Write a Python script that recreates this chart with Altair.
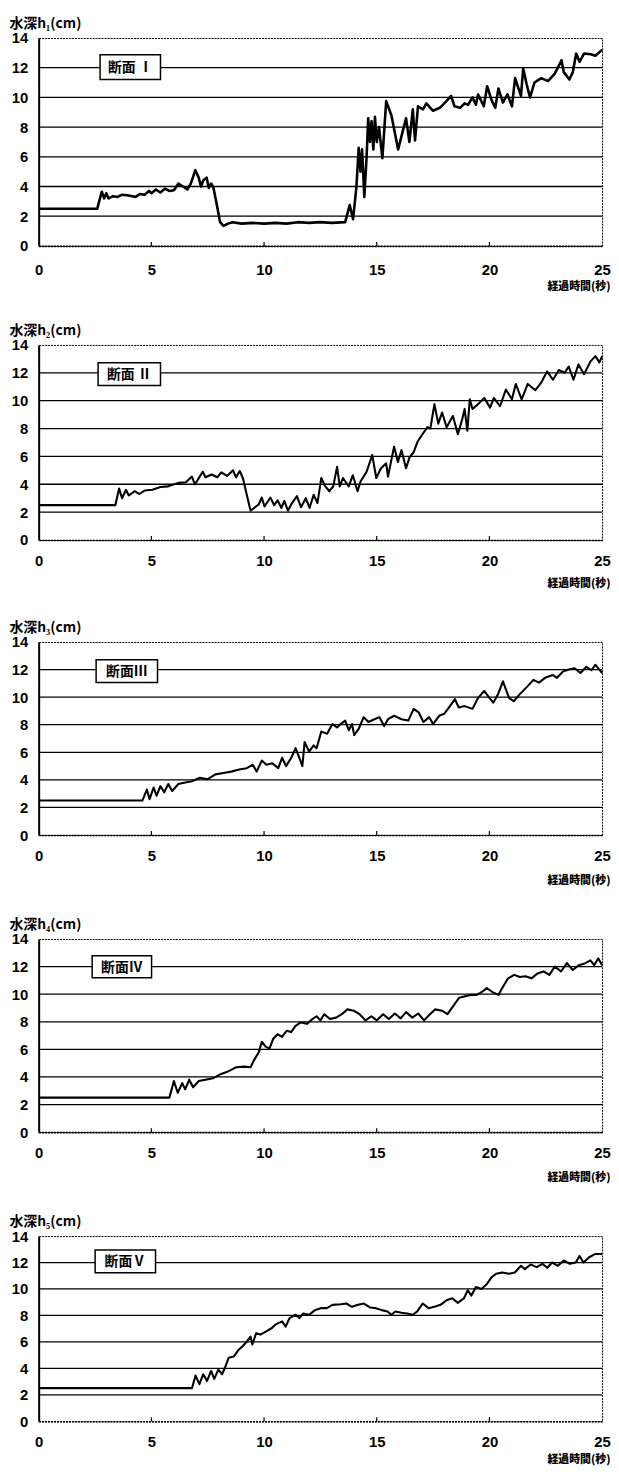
import altair as alt
import pandas as pd

# ---------------- data ----------------
t1 = [0, 2.6, 2.7, 2.8, 2.9, 3.0, 3.1, 3.3, 3.5, 3.7, 4.0, 4.3, 4.5, 4.7, 4.9, 5.0, 5.2, 5.4, 5.6, 5.8,
      6.0, 6.2, 6.4, 6.6, 6.75, 6.95, 7.1, 7.2, 7.3, 7.45, 7.55, 7.65, 7.75, 7.9, 8.05, 8.2, 8.4, 8.6,
      9.0, 9.5, 10.0, 10.5, 11.0, 11.5, 12.0, 12.5, 13.0, 13.6, 13.8, 13.95, 14.1, 14.2, 14.28, 14.35,
      14.45, 14.55, 14.62, 14.7, 14.77, 14.85, 14.92, 15.0, 15.1, 15.25, 15.42, 15.65, 15.95, 16.3,
      16.45, 16.6, 16.7, 16.83, 17.05, 17.2, 17.5, 17.8, 18.0, 18.3, 18.45, 18.7, 18.9, 19.05, 19.25,
      19.4, 19.5, 19.75, 19.9, 20.1, 20.26, 20.4, 20.6, 20.8, 21.0, 21.14, 21.4, 21.5, 21.65, 21.8,
      22.0, 22.3, 22.6, 22.9, 23.2, 23.3, 23.55, 23.7, 23.85, 24.0, 24.2, 24.5, 24.7, 25.0]
h1 = [2.5, 2.5, 3.1, 3.65, 3.2, 3.55, 3.2, 3.35, 3.3, 3.45, 3.4, 3.3, 3.5, 3.45, 3.7, 3.55, 3.8, 3.6, 3.85, 3.7,
      3.75, 4.2, 4.0, 3.8, 4.2, 5.1, 4.6, 4.0, 4.4, 4.6, 3.9, 4.2, 3.95, 2.8, 1.6, 1.35, 1.5, 1.6,
      1.5, 1.55, 1.5, 1.55, 1.5, 1.6, 1.55, 1.6, 1.55, 1.6, 2.75, 1.8, 4.0, 6.6, 5.0, 6.5,
      3.3, 6.0, 8.6, 7.0, 8.4, 6.5, 8.7, 7.0, 8.0, 5.9, 9.75, 8.8, 6.5, 8.6,
      7.0, 9.2, 7.1, 9.4, 9.2, 9.6, 9.1, 9.3, 9.6, 10.1, 9.4, 9.3, 9.6, 9.5, 10.0,
      9.5, 10.2, 9.4, 10.75, 9.8, 9.3, 10.6, 9.65, 10.2, 9.4, 11.3, 10.1, 11.95, 10.9, 10.0,
      11.0, 11.3, 11.1, 11.6, 12.5, 11.7, 11.2, 11.7, 12.95, 12.4, 12.95, 12.9, 12.8, 13.2]

t2 = [0, 3.4, 3.57, 3.7, 3.87, 4.0, 4.27, 4.45, 4.7, 5.05, 5.4, 5.75, 6.2, 6.53, 6.8, 6.93, 7.05, 7.28,
      7.4, 7.67, 7.93, 8.1, 8.36, 8.62, 8.76, 8.92, 9.06, 9.4, 9.76, 9.9, 10.02, 10.28, 10.45, 10.6,
      10.77, 10.9, 11.06, 11.24, 11.46, 11.64, 11.85, 12.02, 12.2, 12.37, 12.54, 12.72, 12.9, 13.07,
      13.24, 13.36, 13.5, 13.76, 13.94, 14.15, 14.28, 14.55, 14.8, 14.98, 15.19, 15.42, 15.5, 15.77,
      15.94, 16.1, 16.3, 16.46, 16.64, 16.81, 16.99, 17.25, 17.38, 17.56, 17.73, 17.9, 18.1, 18.38,
      18.6, 18.8, 18.9, 19.02, 19.13, 19.25, 19.5, 19.77, 20.03, 20.2, 20.47, 20.73, 21.0, 21.17,
      21.43, 21.7, 22.04, 22.3, 22.56, 22.82, 23.08, 23.34, 23.52, 23.73, 23.95, 24.2, 24.48, 24.7,
      24.88, 25.0]
h2 = [2.5, 2.5, 3.7, 3.0, 3.6, 3.2, 3.5, 3.3, 3.55, 3.6, 3.8, 3.85, 4.1, 4.15, 4.55, 4.0, 4.3, 4.9,
      4.5, 4.7, 4.5, 4.85, 4.6, 5.0, 4.5, 4.95, 4.45, 2.1, 2.55, 3.05, 2.4, 3.05, 2.5, 2.85,
      2.3, 2.8, 2.1, 2.65, 3.15, 2.35, 3.0, 2.3, 3.25, 2.65, 4.45, 3.85, 3.5, 3.85,
      5.25, 3.85, 4.45, 3.85, 4.65, 3.5, 4.2, 4.9, 6.1, 4.45, 5.15, 5.5, 4.55, 6.7,
      5.6, 6.45, 5.15, 5.95, 6.3, 7.05, 7.5, 8.1, 8.0, 9.75, 8.35, 9.15, 8.1, 8.9,
      7.6, 8.7, 9.4, 7.85, 10.1, 9.4, 9.75, 10.2, 9.5, 10.2, 9.6, 10.8, 10.1, 11.2,
      10.1, 11.2, 10.75, 11.3, 12.1, 11.5, 12.2, 12.0, 12.45, 11.5, 12.6, 11.9, 12.8, 13.2,
      12.75, 13.2]

t3 = [0, 4.6, 4.8, 4.92, 5.1, 5.23, 5.4, 5.57, 5.75, 5.92, 6.2, 6.45, 6.8, 7.15, 7.5, 7.84, 8.2, 8.54,
      8.9, 9.23, 9.5, 9.67, 9.9, 10.1, 10.37, 10.63, 10.8, 10.98, 11.24, 11.4, 11.6, 11.7, 11.8, 12.0,
      12.2, 12.33, 12.54, 12.8, 13.03, 13.24, 13.4, 13.6, 13.76, 13.9, 14.0, 14.2, 14.42, 14.63, 14.9,
      15.12, 15.33, 15.5, 15.77, 16.1, 16.4, 16.64, 16.86, 17.07, 17.33, 17.5, 17.77, 18.0, 18.25,
      18.47, 18.64, 18.9, 19.25, 19.5, 19.77, 20.0, 20.17, 20.38, 20.6, 20.87, 21.08, 21.34, 21.7,
      21.95, 22.2, 22.47, 22.82, 23.0, 23.26, 23.52, 23.78, 24.04, 24.3, 24.53, 24.7, 24.88, 25.0]
h3 = [2.5, 2.5, 3.3, 2.6, 3.45, 2.85, 3.55, 3.1, 3.7, 3.2, 3.7, 3.8, 3.9, 4.15, 4.05, 4.4, 4.5, 4.6,
      4.75, 4.85, 5.1, 4.6, 5.4, 5.1, 5.2, 4.85, 5.6, 5.0, 5.7, 6.3, 5.45, 5.0, 6.75, 6.05,
      6.5, 6.3, 7.5, 7.35, 8.05, 7.8, 8.05, 8.3, 7.6, 8.05, 7.25, 7.7, 8.55, 8.2, 8.4,
      8.55, 7.9, 8.4, 8.65, 8.4, 8.3, 9.15, 8.9, 8.2, 8.55, 8.05, 8.65, 8.8, 9.35,
      9.85, 9.25, 9.35, 9.15, 9.95, 10.45, 9.95, 9.6, 10.2, 11.15, 9.95, 9.7, 10.2, 10.8,
      11.25, 11.05, 11.4, 11.6, 11.4, 11.85, 12.0, 12.1, 11.75, 12.2, 11.95, 12.35, 12.0, 11.75]

t4 = [0, 5.8, 6.0, 6.17, 6.37, 6.5, 6.68, 6.85, 7.1, 7.4, 7.73, 8.07, 8.4, 8.77, 9.1, 9.4, 9.55, 9.77,
      9.9, 10.07, 10.24, 10.4, 10.6, 10.8, 11.0, 11.2, 11.4, 11.63, 11.9, 12.15, 12.33, 12.5, 12.67,
      12.93, 13.2, 13.45, 13.7, 13.98, 14.24, 14.5, 14.76, 15.0, 15.28, 15.54, 15.8, 16.06, 16.3,
      16.58, 16.84, 17.1, 17.36, 17.6, 17.9, 18.14, 18.4, 18.66, 18.92, 19.18, 19.44, 19.7, 19.88,
      20.14, 20.4, 20.57, 20.83, 21.1, 21.35, 21.6, 21.87, 22.13, 22.4, 22.66, 22.9, 23.18, 23.44,
      23.7, 23.96, 24.2, 24.48, 24.65, 24.83, 25.0]
h4 = [2.5, 2.5, 3.7, 2.85, 3.55, 3.1, 3.8, 3.25, 3.7, 3.8, 3.9, 4.2, 4.4, 4.7, 4.75, 4.7, 5.2, 5.8,
      6.55, 6.2, 6.05, 6.75, 7.1, 6.9, 7.35, 7.25, 7.7, 7.95, 7.85, 8.2, 8.4, 8.1, 8.55,
      8.2, 8.3, 8.55, 8.9, 8.8, 8.55, 8.1, 8.4, 8.1, 8.55, 8.2, 8.6, 8.25, 8.7,
      8.3, 8.6, 8.1, 8.55, 8.9, 8.8, 8.55, 9.15, 9.75, 9.85, 9.95, 9.95, 10.2, 10.45,
      10.15, 9.95, 10.45, 11.15, 11.4, 11.25, 11.3, 11.15, 11.5, 11.65, 11.4, 12.0, 11.65, 12.25,
      11.75, 12.1, 12.2, 12.45, 12.1, 12.6, 12.1]

t5 = [0, 6.8, 6.96, 7.13, 7.3, 7.47, 7.65, 7.79, 7.97, 8.14, 8.3, 8.43, 8.66, 8.87, 9.04, 9.25, 9.4,
      9.48, 9.65, 9.83, 10.1, 10.35, 10.5, 10.8, 10.96, 11.13, 11.4, 11.57, 11.74, 12.0, 12.26, 12.52,
      12.78, 13.04, 13.4, 13.65, 13.9, 14.17, 14.43, 14.7, 14.96, 15.22, 15.48, 15.65, 15.83, 16.1,
      16.35, 16.6, 16.8, 17.04, 17.3, 17.56, 17.83, 18.1, 18.35, 18.6, 18.87, 19.04, 19.2, 19.4,
      19.65, 19.9, 20.1, 20.3, 20.57, 20.87, 21.13, 21.4, 21.57, 21.83, 22.1, 22.35, 22.57, 22.78,
      23.04, 23.3, 23.57, 23.83, 24.0, 24.17, 24.43, 24.7, 25.0]
h5 = [2.5, 2.5, 3.45, 2.8, 3.55, 3.05, 3.8, 3.2, 3.9, 3.55, 4.2, 4.8, 4.9, 5.4, 5.65, 6.05, 6.4,
      5.8, 6.65, 6.55, 6.8, 7.05, 7.3, 7.55, 7.15, 7.8, 8.05, 7.8, 8.15, 8.05, 8.4, 8.55,
      8.55, 8.8, 8.85, 8.9, 8.65, 8.8, 8.9, 8.6, 8.55, 8.4, 8.3, 8.05, 8.3, 8.2,
      8.15, 8.05, 8.3, 8.9, 8.55, 8.65, 8.8, 9.15, 9.3, 8.95, 9.3, 9.9, 9.5, 10.15,
      10.0, 10.4, 10.9, 11.15, 11.25, 11.15, 11.25, 11.75, 11.5, 11.85, 11.65, 11.9, 11.6, 12.0,
      11.75, 12.15, 11.9, 12.0, 12.5, 12.0, 12.4, 12.65, 12.65]

y_titles = ["水深h₁(cm)", "水深h₂(cm)", "水深h₃(cm)", "水深h₄(cm)", "水深h₅(cm)"]
section_labels = ["断面 Ⅰ", "断面 Ⅱ", "断面Ⅲ", "断面Ⅳ", "断面Ⅴ"]
x_title = "経過時間(秒)"
x_ticks = [0, 5, 10, 15, 20, 25]
inner_ticks = [5, 10, 15, 20]
y_ticks = [0, 2, 4, 6, 8, 10, 12, 14]
grid_values = [2, 4, 6, 8, 10, 12]

series = [(t1, h1), (t2, h2), (t3, h3), (t4, h4), (t5, h5)]

# ---------------- layout / style ----------------
W = 569
heights = [210, 197, 195, 195, 187]
label_pads = [17, 14, 14, 14, 14]
xtitle_offsets = [46, 49, 51, 51, 44]
line_widths = [2.6, 2.1, 2.1, 2.1, 2.1]
boxes = [(62, 123, 17, 42), (60, 123, 18, 41), (58, 120, 18, 41), (54, 114, 17, 39), (57, 118, 14, 37)]

JP = "Noto Sans CJK JP"
NUM = "Liberation Sans"


def panel(i):
    t, h = series[i]
    H = heights[i]
    df = pd.DataFrame({"t": t, "h": h})
    xs = alt.Scale(domain=[0, 25], nice=False)
    ys = alt.Scale(domain=[0, 14], nice=False)
    xaxis = alt.Axis(values=x_ticks, format="d", labelFont=NUM, labelFontSize=15, labelFontWeight="bold",
                     labelColor="black", labelPadding=label_pads[i], ticks=False, grid=False,
                     domainColor="black", domainWidth=1.6, domainDash=[2, 1],
                     title=x_title, titleFont=JP, titleFontSize=11, titleFontWeight=900,
                     titleColor="black", titleAlign="right", titleBaseline="bottom",
                     titleX=W + 8, titleY=xtitle_offsets[i], labelFlush=False)
    yaxis = alt.Axis(values=y_ticks, format="d", labelFont=NUM, labelFontSize=15, labelFontWeight="bold",
                     labelColor="black", labelPadding=11, ticks=False, grid=False,
                     domainColor="black", domainWidth=2,
                     title=y_titles[i], titleFont=JP, titleFontSize=14, titleFontWeight="bold",
                     titleColor="black", titleAngle=0, titleAlign="left", titleBaseline="bottom",
                     titleX=-30, titleY=-8)

    grid = alt.Chart(pd.DataFrame({"h": grid_values})).mark_rule(color="black", strokeWidth=1.3).encode(
        y=alt.Y("h:Q", scale=ys, axis=yaxis))
    line = alt.Chart(df).mark_line(color="black", strokeWidth=line_widths[i], strokeJoin="round").encode(
        x=alt.X("t:Q", scale=xs, axis=xaxis),
        y=alt.Y("h:Q", scale=ys, axis=yaxis))
    ticks = alt.Chart(pd.DataFrame({"t": inner_ticks})).mark_rule(color="black", strokeWidth=1.2).encode(
        x=alt.X("t:Q", scale=xs, axis=xaxis), y=alt.value(H), y2=alt.value(H - 4))
    bx0, bx1, by0, by1 = boxes[i]
    lab = pd.DataFrame({"label": [section_labels[i]]})
    box = alt.Chart(lab).mark_rect(fill="white", stroke="black", strokeWidth=1.5).encode(
        x=alt.value(bx0), x2=alt.value(bx1), y=alt.value(by0), y2=alt.value(by1))
    text = alt.Chart(lab).mark_text(font=JP, fontSize=14, fontWeight="bold", color="black",
                                    align="center", baseline="middle").encode(
        x=alt.value((bx0 + bx1) / 2), y=alt.value((by0 + by1) / 2 + 1), text="label:N")
    return alt.layer(grid, line, ticks, box, text).properties(width=W, height=H)


chart = alt.vconcat(*[panel(i) for i in range(5)], spacing=30).properties(
    padding=0, background="white"
).configure_view(
    stroke="black", strokeWidth=1, strokeDash=[2, 1]
)

chart.save("out.html", embed_options={"renderer": "svg", "actions": False})
